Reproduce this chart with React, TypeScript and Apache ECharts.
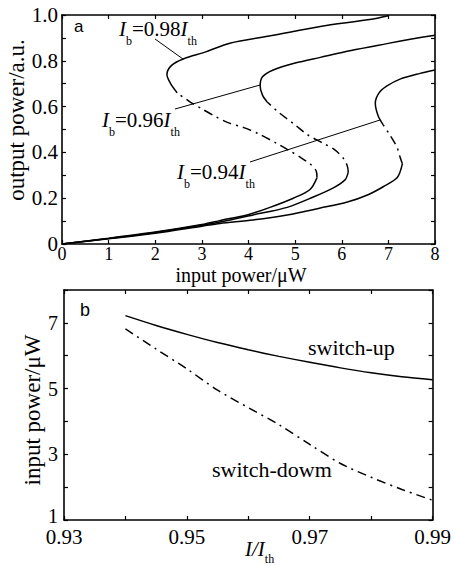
import React, { useEffect, useRef } from "react";
import * as echarts from "echarts";

// ---- Panel a: output power vs input power (bistable S-curves) ----
const lower098 = [[0,0],[1,0.025],[2,0.052],[3,0.085],[3.4,0.103],[3.97,0.127],[4.46,0.16],[4.96,0.2],[5.32,0.238],[5.47,0.29]];
const middle098 = [[5.47,0.29],[5.45,0.32],[5.32,0.35],[5.1,0.38],[4.9,0.405],[4.6,0.44],[4.2,0.483],[3.9,0.508],[3.56,0.53],[3.3,0.556],[3.0,0.59],[2.75,0.62],[2.47,0.66]];
const upper098 = [[2.47,0.66],[2.33,0.70],[2.25,0.74],[2.35,0.78],[2.6,0.808],[3.1,0.84],[3.6,0.877],[4.5,0.91],[5.54,0.95],[6.6,0.98],[7.0,0.997]];

const lower096 = [[0,0],[1,0.024],[2,0.05],[3,0.082],[3.39,0.096],[4.1,0.127],[4.83,0.16],[5.39,0.205],[5.82,0.245],[6.07,0.28],[6.14,0.314]];
const middle096 = [[6.14,0.314],[6.12,0.34],[6.05,0.37],[5.86,0.41],[5.6,0.44],[5.26,0.478],[5.0,0.52],[4.64,0.576],[4.4,0.62]];
const upper096 = [[4.4,0.62],[4.3,0.65],[4.25,0.69],[4.3,0.73],[4.53,0.76],[5.0,0.79],[5.54,0.815],[6.2,0.845],[6.97,0.875],[7.5,0.895],[8,0.912]];

const lower094 = [[0,0],[1,0.023],[2,0.047],[3,0.078],[3.39,0.09],[4.1,0.105],[4.83,0.127],[5.54,0.157],[6.12,0.183],[6.55,0.214],[6.89,0.25],[7.19,0.29],[7.3,0.35]];
const middle094 = [[7.3,0.35],[7.25,0.38],[7.19,0.42],[7.1,0.454],[7.02,0.48],[6.89,0.52]];
const upper094 = [[6.89,0.52],[6.78,0.56],[6.72,0.615],[6.8,0.66],[6.97,0.69],[7.25,0.72],[7.68,0.745],[8,0.76]];

// ---- Panel b: switching input power vs bias ----
const biasRatio = [0.94,0.945,0.95,0.955,0.96,0.965,0.97,0.975,0.98,0.985,0.99];
const switchUp = [7.22,6.92,6.65,6.4,6.18,5.98,5.8,5.63,5.48,5.36,5.27];
const switchDown = [6.82,6.2,5.6,4.95,4.42,3.9,3.3,2.72,2.3,1.93,1.6];

const SERIF = "'Liberation Serif', 'Times New Roman', serif";
const SANS = "'Liberation Sans', Arial, sans-serif";
const BLACK = "#000";
const DASHDOT = [9, 5, 2, 5];

function labelRich(value: string) {
  return {
    text: `{i|I}{s|b}{n|=${value}}{i|I}{s|th}`,
    rich: {
      i: { fontFamily: SERIF, fontStyle: "italic", fontSize: 21, lineHeight: 24, verticalAlign: "top", fill: BLACK },
      n: { fontFamily: SERIF, fontSize: 21, lineHeight: 24, verticalAlign: "top", fill: BLACK },
      s: { fontFamily: SERIF, fontSize: 12, lineHeight: 12, padding: [17, 0, 0, 0], verticalAlign: "top", fill: BLACK },
    },
  };
}

export default function App() {
  const ref = useRef<HTMLDivElement>(null);
  useEffect(() => {
    if (!ref.current) return;
    const chart = echarts.init(ref.current, null, { renderer: "svg" });

    const axisCommon = {
      axisLine: { show: true, onZero: false, lineStyle: { color: BLACK, width: 1.6 } },
      axisTick: { show: true, inside: true, length: 4, lineStyle: { color: BLACK, width: 1.2 } },
      splitLine: { show: false },
    };
    const line = (data: number[][], x: number, y: number, dashed: boolean) => ({
      type: "line",
      xAxisIndex: x,
      yAxisIndex: y,
      data,
      showSymbol: false,
      smooth: 0.3,
      lineStyle: { color: BLACK, width: 1.5, type: dashed ? DASHDOT : "solid" },
      silent: true,
    });

    const option: any = {
      animation: false,
      backgroundColor: "#fff",
      grid: [
        { left: 62, top: 15, width: 373, height: 229 },
        { left: 64, top: 290, width: 374, height: 230 },
      ],
      xAxis: [
        {
          ...axisCommon, type: "value", gridIndex: 0, position: "bottom", min: 0, max: 8, interval: 1,
          axisLabel: { color: BLACK, fontFamily: SERIF, fontSize: 18, lineHeight: 15, margin: 2 },
        },
        {
          ...axisCommon, type: "value", gridIndex: 0, position: "top", min: 0, max: 8, interval: 1,
          axisLabel: { show: false },
        },
        {
          ...axisCommon, type: "value", gridIndex: 1, position: "bottom", min: 0.93, max: 0.99, interval: 0.01,
          axisLabel: {
            color: BLACK, fontFamily: SERIF, fontSize: 21, lineHeight: 16, margin: 9, showMinLabel: true, showMaxLabel: true,
            formatter: (v: number) => (Math.round(v * 100) % 2 === 1 ? v.toFixed(2) : ""),
          },
        },
        {
          ...axisCommon, type: "value", gridIndex: 1, position: "top", min: 0.93, max: 0.99, interval: 0.01,
          axisLabel: { show: false },
        },
      ],
      yAxis: [
        {
          ...axisCommon, type: "value", gridIndex: 0, position: "left", min: 0, max: 1, interval: 0.1,
          axisLabel: {
            color: BLACK, fontFamily: SERIF, fontSize: 21, lineHeight: 16, margin: 4, showMinLabel: true, showMaxLabel: true,
            formatter: (v: number) => {
              const t = Math.round(v * 10);
              if (t % 2 !== 0) return "";
              return t === 0 ? "0" : (t / 10).toFixed(1);
            },
          },
        },
        {
          ...axisCommon, type: "value", gridIndex: 0, position: "right", min: 0, max: 1, interval: 0.1,
          axisLabel: { show: false },
        },
        {
          ...axisCommon, type: "value", gridIndex: 1, position: "left", min: 1, max: 8, interval: 1,
          axisLabel: {
            color: BLACK, fontFamily: SERIF, fontSize: 20, lineHeight: 14, margin: 6, showMinLabel: true,
            formatter: (v: number) => {
              const r = Math.round(v);
              if (r % 2 !== 1) return "";
              return r === 1 ? "{low|1}" : String(r);
            },
            rich: {
              low: { fontFamily: SERIF, fontSize: 20, color: BLACK, lineHeight: 14, padding: [0, 0, 8, 0] },
            },
          },
        },
        {
          ...axisCommon, type: "value", gridIndex: 1, position: "right", min: 1, max: 8, interval: 1,
          axisLabel: { show: false },
        },
      ],
      series: [
        line(lower098, 0, 0, false),
        line(middle098, 0, 0, true),
        line(upper098, 0, 0, false),
        line(lower096, 0, 0, false),
        line(middle096, 0, 0, true),
        line(upper096, 0, 0, false),
        line(lower094, 0, 0, false),
        line(middle094, 0, 0, true),
        line(upper094, 0, 0, false),
        line(biasRatio.map((b, i) => [b, switchUp[i]]), 2, 2, false),
        line(biasRatio.map((b, i) => [b, switchDown[i]]), 2, 2, true),
      ],
      graphic: [
        // panel letters
        { type: "text", x: 74, y: 18, style: { text: "a", fontFamily: SANS, fontSize: 17, fill: BLACK } },
        { type: "text", x: 80, y: 301, style: { text: "b", fontFamily: SANS, fontSize: 18, fill: BLACK } },
        // curve labels
        { type: "text", x: 119, y: 18, style: labelRich("0.98") },
        { type: "text", x: 102, y: 109, style: labelRich("0.96") },
        { type: "text", x: 177, y: 161, style: labelRich("0.94") },
        // leader lines
        { type: "line", shape: { x1: 155, y1: 39, x2: 183, y2: 59 }, style: { stroke: BLACK, lineWidth: 1 } },
        { type: "line", shape: { x1: 175, y1: 109, x2: 260, y2: 85 }, style: { stroke: BLACK, lineWidth: 1 } },
        { type: "line", shape: { x1: 250, y1: 162, x2: 380, y2: 120 }, style: { stroke: BLACK, lineWidth: 1 } },
        // axis titles
        {
          type: "text", x: 241, y: 275,
          style: { text: "input power/\u03bcW", fontFamily: SERIF, fontSize: 20, lineHeight: 16, fill: BLACK, align: "center", verticalAlign: "middle" },
        },
        {
          type: "text", x: 16, y: 120, rotation: Math.PI / 2,
          style: { text: "output power/a.u.", fontFamily: SERIF, fontSize: 23, fill: BLACK, align: "center", verticalAlign: "middle" },
        },
        {
          type: "text", x: 32, y: 410, rotation: Math.PI / 2,
          style: { text: "input power/\u03bcW", fontFamily: SERIF, fontSize: 23, fill: BLACK, align: "center", verticalAlign: "middle" },
        },
        {
          type: "text", x: 245, y: 538,
          style: {
            text: "{i|I/I}{s|th}",
            rich: {
              i: { fontFamily: SERIF, fontStyle: "italic", fontSize: 21, lineHeight: 24, verticalAlign: "top", fill: BLACK },
              s: { fontFamily: SERIF, fontSize: 12, lineHeight: 12, padding: [15, 0, 0, 0], verticalAlign: "top", fill: BLACK },
            },
          },
        },
        // branch names
        { type: "text", x: 308, y: 347, style: { text: "switch-up", fontFamily: SERIF, fontSize: 22, fill: BLACK, verticalAlign: "middle" } },
        { type: "text", x: 212, y: 469, style: { text: "switch-dowm", fontFamily: SERIF, fontSize: 22, fill: BLACK, verticalAlign: "middle" } },
      ],
    };
    chart.setOption(option);
    return () => chart.dispose();
  }, []);
  return <div ref={ref} style={{ width: 454, height: 565, position: "absolute", left: 0, top: 0, background: "#fff" }} />;
}
